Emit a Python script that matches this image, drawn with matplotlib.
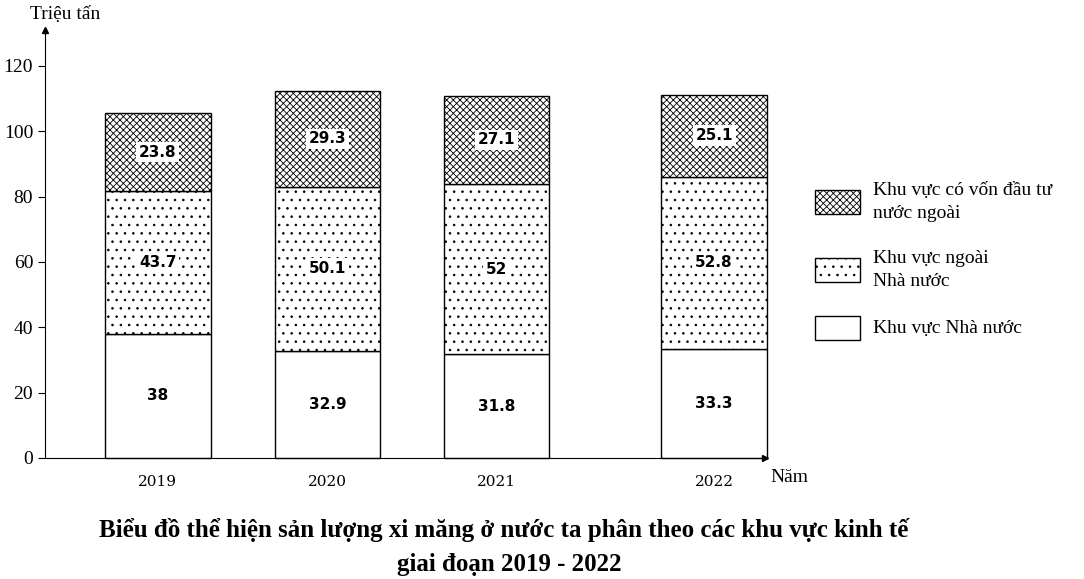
import matplotlib
matplotlib.use("Agg")
import matplotlib.pyplot as plt
from matplotlib.patches import Rectangle

years = ["2019", "2020", "2021", "2022"]
nha_nuoc = [38, 32.9, 31.8, 33.3]
ngoai_nn = [43.7, 50.1, 52, 52.8]
fdi = [23.8, 29.3, 27.1, 25.1]
labels_nn = ["38", "32.9", "31.8", "33.3"]
labels_ngoai = ["43.7", "50.1", "52", "52.8"]
labels_fdi = ["23.8", "29.3", "27.1", "25.1"]
yticks = [0, 20, 40, 60, 80, 100, 120]

plt.rcParams['font.family'] = ['Liberation Serif', 'DejaVu Serif']
plt.rcParams['hatch.linewidth'] = 0.6
fig = plt.figure(figsize=(10.84, 5.79), dpi=100)
ax = fig.add_axes([45/1084, 121/579, 720/1084, 428/579])
pos = [0.665, 1.665, 2.66, 3.94]
w = 0.62
kw = dict(clip_on=False)
ax.bar(pos, nha_nuoc, w, color='white', edgecolor='black', lw=1, **kw)
ax.bar(pos, ngoai_nn, w, bottom=nha_nuoc, color='white', edgecolor='black', hatch='..', lw=1, **kw)
bot3 = [a + b for a, b in zip(nha_nuoc, ngoai_nn)]
ax.bar(pos, fdi, w, bottom=bot3, color='white', edgecolor='black', hatch='xxxxx', lw=1, **kw)
for i in range(4):
    for yv, t in [(nha_nuoc[i]/2, labels_nn[i]), (nha_nuoc[i]+ngoai_nn[i]/2, labels_ngoai[i]),
                  (bot3[i]+fdi[i]/2, labels_fdi[i])]:
        ax.text(pos[i], yv, t, ha='center', va='center', fontsize=11, fontweight='bold',
                family=['DejaVu Sans'],
                bbox=dict(facecolor='white', edgecolor='none', pad=2))
ax.set_xlim(0, 4.24)
ax.set_ylim(0, 131)
ax.set_yticks(yticks)
ax.set_xticks(pos)
ax.set_xticklabels(years)
ax.tick_params(axis='x', length=0, pad=12)
ax.tick_params(axis='y', labelsize=14, direction='out', length=5)
for tl in ax.get_xticklabels():
    tl.set_fontfamily('DejaVu Serif'); tl.set_fontsize(11)
ax.spines['top'].set_visible(False)
ax.spines['right'].set_visible(False)
ax.plot(1, 0, '>k', transform=ax.transAxes, clip_on=False, ms=5)
ax.plot(0, 1, '^k', transform=ax.transAxes, clip_on=False, ms=5)
fig.text(30/1084, 1-15/579, "Triệu tấn", fontsize=14, va='center')
fig.text(770/1084, 1-477/579, "Năm", fontsize=14, va='center')

def leg(y, hatch, lines, ytext):
    r = Rectangle((815/1084, 1-(y+12)/579), 45/1084, 24/579, transform=fig.transFigure,
                  facecolor='white', edgecolor='black', hatch=hatch, lw=1)
    fig.patches.append(r)
    fig.text(873/1084, 1-ytext/579, lines, fontsize=14, va='center', linespacing=1.45)
leg(202, 'xxxxx', "Khu vực có vốn đầu tư\nnước ngoài", 202)
leg(270, '..', "Khu vực ngoài\nNhà nước", 270)
leg(328, '', "Khu vực Nhà nước", 328)
fig.text(0.465, 1-530/579, "Biểu đồ thể hiện sản lượng xi măng ở nước ta phân theo các khu vực kinh tế",
         ha='center', va='center', fontsize=18, fontweight='bold')
fig.text(0.47, 1-565/579, "giai đoạn 2019 - 2022", ha='center', va='center', fontsize=18, fontweight='bold')
fig.savefig("out.png", dpi=100)
